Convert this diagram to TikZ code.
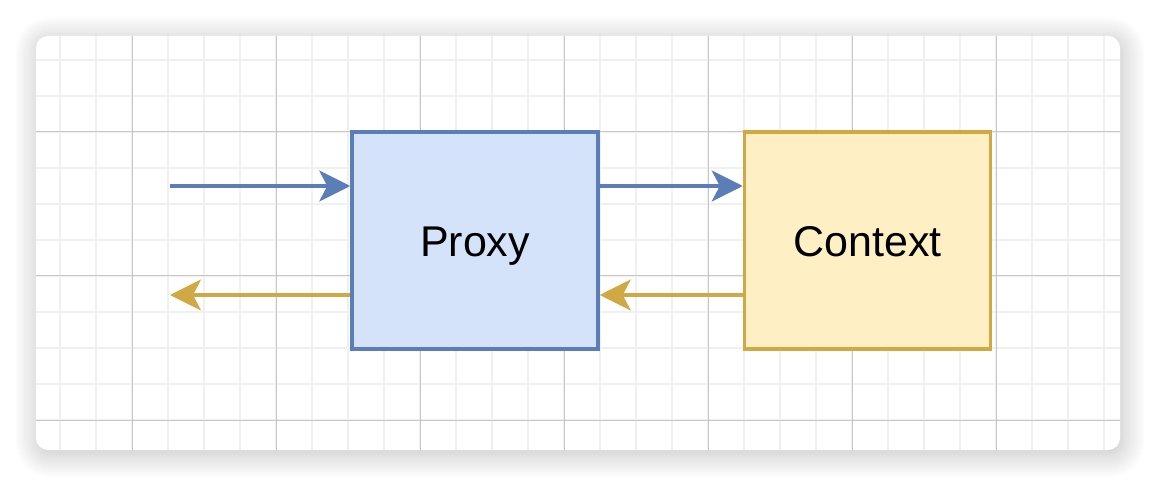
\documentclass[tikz,border=0pt]{standalone}
\usepackage{fontspec}
\setmainfont{Liberation Sans}
\usetikzlibrary{arrows.meta,shadows.blur}
\definecolor{bluestroke}{HTML}{5B7DB8}
\definecolor{bluefill}{HTML}{D4E3FA}
\definecolor{goldstroke}{HTML}{D0A944}
\definecolor{goldfill}{HTML}{FEF0C4}
\definecolor{gridminor}{HTML}{F0F0F0}
\definecolor{gridmajor}{HTML}{C6C6C6}
\tikzset{
 box/.style={draw, line width=3.5pt, minimum width=246pt, minimum height=217pt, inner sep=0pt, text height=32pt, text depth=0pt, font=\fontsize{43}{50}\selectfont},
 proxybox/.style={box, draw=bluestroke, fill=bluefill},
 contextbox/.style={box, draw=goldstroke, fill=goldfill},
 flow/.style={line width=3.5pt, -{Stealth[length=31pt,width=31pt,inset=8pt]}},
}
\begin{document}
\begin{tikzpicture}[x=1pt,y=-1pt]
\useasboundingbox (0,0) rectangle (1156,486);
\path[fill=white, rounded corners=12pt, blur shadow={shadow xshift=2pt, shadow yshift=-4pt, shadow blur radius=24pt, shadow blur steps=24, shadow opacity=26}] (36,36) rectangle (1120,450);
\begin{scope}
\clip[rounded corners=12pt] (36,36) rectangle (1120,450);
\foreach \x in {60,96,...,1104} \draw[gridminor, line width=1.5pt] (\x,36) -- (\x,450);
\foreach \y in {60,96,...,456} \draw[gridminor, line width=1.5pt] (36,\y) -- (1120,\y);
\foreach \x in {132,276,...,996} \draw[gridmajor, line width=1pt] (\x,36) -- (\x,450);
\foreach \y in {132,276,420} \draw[gridmajor, line width=1pt] (36,\y) -- (1120,\y);
\end{scope}
\node[proxybox] (proxy) at (475,240.5) {Proxy};
\node[contextbox] (context) at (867.5,240.5) {Context};
\coordinate (in) at (170,186);
\coordinate (out) at (170,295);
\draw[flow, bluestroke] (in) -- (in -| proxy.west);
\draw[flow, bluestroke] ([yshift=54.5pt]proxy.east) -- ([yshift=54.5pt]context.west);
\draw[flow, goldstroke] ([yshift=-54.5pt]context.west) -- ([yshift=-54.5pt]proxy.east);
\draw[flow, goldstroke] (out -| proxy.west) -- (out);
\end{tikzpicture}
\end{document}
